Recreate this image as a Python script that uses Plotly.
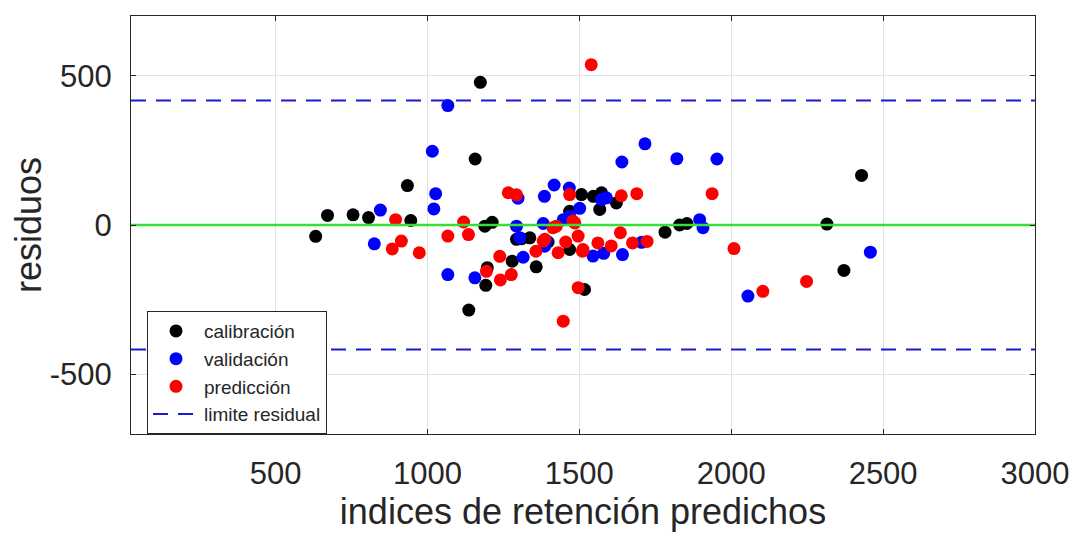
import plotly.graph_objects as go

# ---------------- data ----------------
cal_x = [632, 671, 755, 806, 934, 945, 1174, 1157, 1189, 1213, 1136, 1192, 1197,
         1279, 1358, 1293, 1337, 1397, 1468, 1507, 1546, 1573, 1567, 1622, 1468,
         1517, 1782, 1830, 1854, 2315, 2371, 2429, 1310]
cal_y = [-38, 32, 34, 25, 132, 15, 478, 221, -4, 9, -285, -202, -143,
         -121, -140, -48, -43, -57, -82, 102, 96, 108, 52, 74, 46,
         -216, -24, 0, 5, 3, -152, 166, -46]

val_x = [845, 825, 1067, 1016, 1027, 1021, 1067, 1156, 1298, 1293, 1315, 1381,
         1385, 1417, 1467, 1501, 1468, 1447, 1391, 1545, 1580, 1642, 1573, 1589,
         1640, 1716, 1821, 1953, 1896, 1907, 2055, 2458, 1705, 1304, 1386]
val_y = [50, -63, 400, 247, 105, 54, -166, -177, 90, -4, -108, 5,
         96, 134, 124, 56, 29, 18, -54, -104, -95, -99, 85, 91,
         211, 272, 222, 221, 18, -9, -238, -91, -58, -43, -71]

pred_x = [895, 914, 884, 973, 1067, 1119, 1135, 1194, 1238, 1240, 1276, 1266,
          1293, 1357, 1381, 1413, 1430, 1455, 1468, 1485, 1496, 1510, 1447, 1496,
          1539, 1561, 1605, 1635, 1638, 1689, 1675, 1723, 1937, 2009, 2104, 2248,
          1479, 1386, 1512, 1424]
pred_y = [18, -54, -80, -93, -37, 10, -32, -155, -105, -184, -166, 108,
          101, -88, -54, -9, -93, -57, 102, 7, -37, -88, -322, -210,
          537, -60, -70, -26, 98, 105, -60, -55, 105, -79, -222, -189,
          13, -48, -82, -4]

residual_limit = 417
x_range = [24, 3000]
y_range = [-700, 700]
x_ticks = [500, 1000, 1500, 2000, 2500, 3000]
y_ticks = [-500, 0, 500]
y_tick_text = ["-500", "0", "500"]

# ---------------- figure ----------------
TXT = "#262626"
FONT = "Liberation Sans, Arial, Helvetica, sans-serif"
MS = 13

fig = go.Figure()
fig.add_trace(go.Scatter(x=cal_x, y=cal_y, mode="markers", name="calibración",
                         marker=dict(color="#000000", size=MS, line=dict(width=0))))
fig.add_trace(go.Scatter(x=val_x, y=val_y, mode="markers", name="validación",
                         marker=dict(color="#0000ff", size=MS, line=dict(width=0))))
fig.add_trace(go.Scatter(x=pred_x, y=pred_y, mode="markers", name="predicción",
                         marker=dict(color="#ff0000", size=MS, line=dict(width=0))))
fig.add_trace(go.Scatter(x=x_range, y=[0, 0], mode="lines", showlegend=False,
                         line=dict(color="#33e033", width=2.5), hoverinfo="skip"))
fig.add_trace(go.Scatter(x=x_range, y=[residual_limit, residual_limit], mode="lines",
                         name="limite residual",
                         line=dict(color="#1a1ad0", width=2, dash="15px,10px")))
fig.add_trace(go.Scatter(x=x_range, y=[-residual_limit, -residual_limit], mode="lines",
                         showlegend=False,
                         line=dict(color="#1a1ad0", width=2, dash="15px,10px")))

axis_common = dict(
    showline=True, linecolor=TXT, linewidth=1, mirror="ticks",
    showgrid=True, gridcolor="#e3e3e3", gridwidth=1,
    ticks="inside", ticklen=5, tickcolor=TXT, tickwidth=1,
    zeroline=False, automargin=False, ticklabeloverflow="allow",
    tickfont=dict(family=FONT, size=31, color=TXT),
)

# page body has an 8px default margin, so the figure is offset by it
fig.update_layout(
    width=1069, height=526,
    margin=dict(l=123, r=42, t=8, b=100),
    paper_bgcolor="white", plot_bgcolor="white",
    font=dict(family=FONT, color=TXT),
    xaxis=dict(range=x_range, tickvals=x_ticks, ticklabelstandoff=12,
               title=dict(text="indices de retención predichos",
                          font=dict(family=FONT, size=36, color=TXT), standoff=7),
               **axis_common),
    yaxis=dict(range=y_range, tickvals=y_ticks, ticktext=y_tick_text,
               ticklabelstandoff=12,
               title=dict(text="residuos",
                          font=dict(family=FONT, size=36, color=TXT), standoff=22),
               **axis_common),
    legend=dict(x=0.0177, y=0.294, xanchor="left", yanchor="top",
                bgcolor="white", bordercolor=TXT, borderwidth=1,
                font=dict(family=FONT, size=19, color=TXT),
                tracegroupgap=0, itemwidth=46),
    showlegend=True,
)

fig.write_html("out.html")
